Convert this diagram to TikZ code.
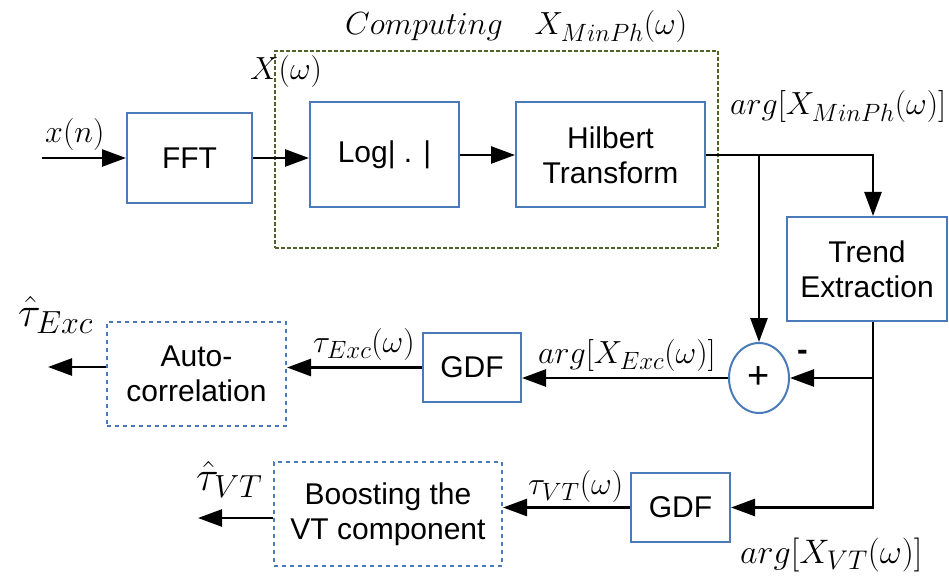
\RequirePackage{fix-cm}
\documentclass[tikz,border=0pt]{standalone}
\usepackage{fontspec}
\setsansfont{Liberation Sans}
\DeclareMathSizes{32}{32}{25}{18}
\DeclareMathSizes{34}{34}{27}{19}
\DeclareMathSizes{42}{42}{32}{22}
\usetikzlibrary{arrows.meta,shapes.geometric}
\definecolor{boxblue}{RGB}{74,122,184}
\definecolor{groupolive}{RGB}{79,98,40}
\tikzset{
  blk/.style={draw=boxblue, line width=2pt, inner sep=0pt, align=center,
    font=\sffamily\fontsize{30}{35}\selectfont},
  softblk/.style={blk, dash pattern=on 4pt off 4pt},
  sumnode/.style={blk, ellipse, minimum width=60pt, minimum height=70pt,
    font=\sffamily\fontsize{38}{40}\selectfont},
  conn/.style={line width=2.6pt, -{Triangle[length=24pt,width=17pt]}},
  lbl/.style={inner sep=0pt, font=\fontsize{32}{36}\selectfont},
  biglbl/.style={inner sep=0pt, font=\fontsize{42}{46}\selectfont},
}
\begin{document}
\begin{tikzpicture}[x=1pt, y=-1pt]
\useasboundingbox (0,0) rectangle (949,577);

% group frame for the minimum-phase computation
\node[draw=groupolive, line width=1.6pt, dash pattern=on 4pt off 2pt,
      minimum width=443pt, minimum height=197pt, inner sep=0pt]
      (grp) at (496.5,149.5) {};

% processing blocks
\node[blk, minimum width=125pt, minimum height=90pt]  (fft)   at (189.5,158) {FFT};
\node[blk, minimum width=149pt, minimum height=105pt] (log)   at (384.5,155) {Log| . |};
\node[blk, minimum width=189pt, minimum height=105pt] (hil)   at (610.5,155) {Hilbert\\Transform};
\node[blk, minimum width=160pt, minimum height=104pt] (trend) at (867,269)   {Trend\\Extraction};
\node[sumnode] (sum) at (759,378) {+};
\node[blk, minimum width=98pt, minimum height=69pt]   (gdfa)  at (472,367.5) {GDF};
\node[softblk, minimum width=179pt, minimum height=104pt] (auto) at (196.5,374) {Auto-\\correlation};
\node[blk, minimum width=99pt, minimum height=69pt]   (gdfb)  at (680.5,507.5) {GDF};
\node[softblk, minimum width=228pt, minimum height=104pt] (boost) at (388,514) {Boosting the\\VT component};

% free ends and corners
\coordinate (xin)    at (42,158);
\coordinate (split)  at (759,155);
\coordinate (corner) at (873,155);
\coordinate (excout) at (48,367);
\coordinate (vtout)  at (198,518);

% connectors
\draw[conn] (xin) -- (fft.west);
\draw[conn] (fft.east) -- (fft.east -| log.west);
\draw[conn] (log.east) -- (hil.west);
\draw[conn] (hil.east) -- (corner) -- (corner |- trend.north);
\draw[conn] (split) -- (sum.north);
\draw[conn] (trend.south -| corner) -- (corner |- gdfb.east) -- (gdfb.east);
\draw[conn] (corner |- sum.east) -- (sum.east);
\draw[conn] (sum.west) -- (sum.west -| gdfa.east);
\draw[conn] (gdfa.west) -- (gdfa.west -| auto.east);
\draw[conn] (auto.west |- excout) -- (excout);
\draw[conn] (gdfb.west) -- (gdfb.west -| boost.east);
\draw[conn] (boost.west |- vtout) -- (vtout);

% signal labels
\node[lbl, anchor=base west] (lx)    at (45,143)  {$x(n)$};
\node[lbl, anchor=base west] (lX)    at (250,80)  {$X(\omega)$};
\node[lbl, anchor=base west] (ltit)  at (345,35)  {$Computing\quad X_{MinPh}(\omega)$};
\node[lbl, anchor=base west] (lmin)  at (730,115) {$arg[X_{MinPh}(\omega)]$};
\node[lbl, anchor=base west, font=\sffamily\bfseries\fontsize{32}{36}\selectfont] (lminus) at (797,360) {-};
\node[lbl, anchor=base west] (lexc)  at (538,363) {$arg[X_{Exc}(\omega)]$};
\node[lbl, anchor=base west] (ltexc) at (313,352) {$\tau_{Exc}(\omega)$};
\node[biglbl, anchor=base west] (lhexc) at (18,326)  {$\hat{\tau}_{Exc}$};
\node[lbl, anchor=base west] (ltvt)  at (528,494) {$\tau_{VT}(\omega)$};
\node[biglbl, anchor=base west] (lhvt)  at (196,490) {$\hat{\tau}_{VT}$};
\node[lbl, anchor=base west, font=\fontsize{34}{38}\selectfont] (lvt) at (740,563) {$arg[X_{VT}(\omega)]$};
\end{tikzpicture}
\end{document}
